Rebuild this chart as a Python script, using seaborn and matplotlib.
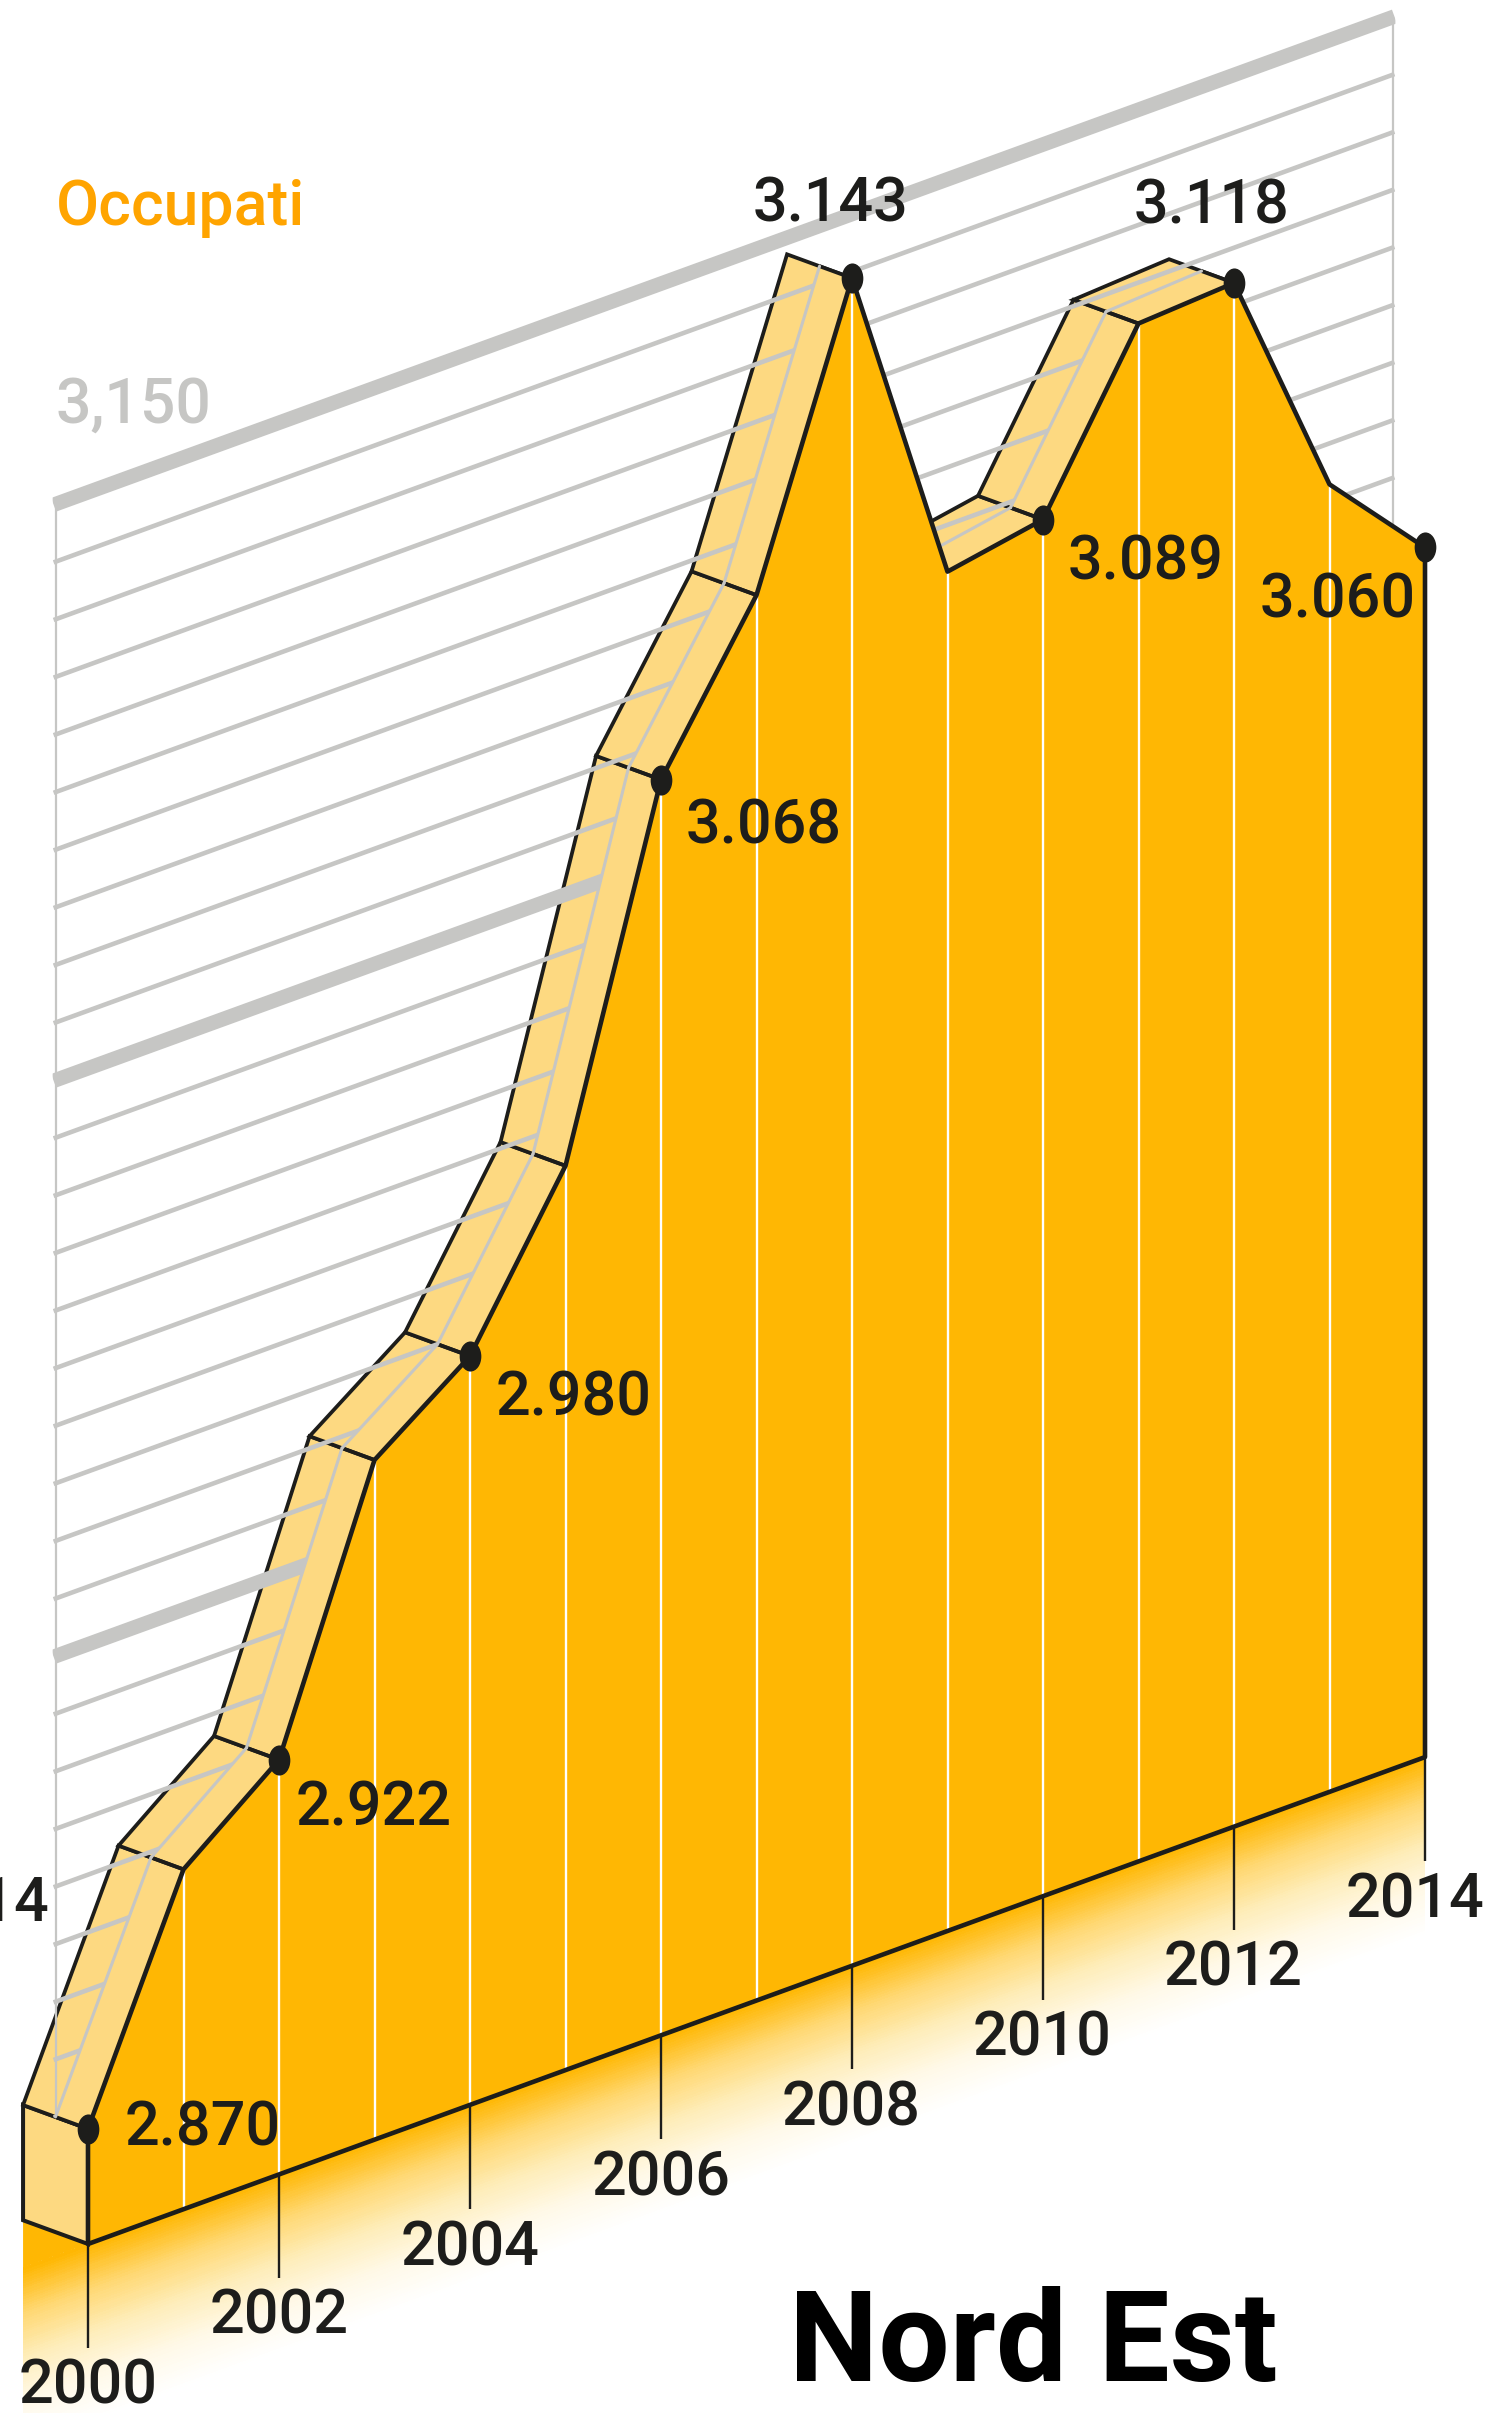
import matplotlib
matplotlib.use('Agg')
import matplotlib.pyplot as plt
from matplotlib.colors import LinearSegmentedColormap
from matplotlib.markers import MarkerStyle
from matplotlib.patches import Polygon
from matplotlib.path import Path
from matplotlib.transforms import Affine2D
import numpy as np
import seaborn as sns

years = [2000, 2001, 2002, 2003, 2004, 2005, 2006, 2007, 2008, 2009, 2010, 2011, 2012, 2013, 2014]
occupati = [2870, 2909, 2922, 2968, 2980, 3007, 3068, 3094, 3143, 3086, 3089, 3117, 3118, 3077, 3060]
label_years = [2000, 2002, 2004, 2006, 2008, 2010, 2012, 2014]
value_labels = ['2.870', '2.922', '2.980', '3.068', '3.143', '3.089', '3.118', '3.060']
grid_values = list(range(2860, 3160, 10))
thick_grid = [2950, 3050, 3150]
base_value = 2850

AMBER = '#FFB703'
LIGHT = '#FDD981'
BLACK = '#1D1D1B'
GREY = '#C6C6C4'
ORANGE = '#FFA400'

sns.set_theme(style='white')
plt.rcParams['font.family'] = ['Roboto', 'DejaVu Sans']

fig = plt.figure(figsize=(14.9, 24.13), dpi=100)
ax = fig.add_axes([0, 0, 1, 1])

# isometric look: one year goes right and up, one value unit goes straight up
px_year = 95.5
px_rise = 34.78
px_value = 5.76
skew = Affine2D.from_values(px_year, -px_rise, 0, -px_value,
                            88 - px_year * 2000,
                            2244 + px_rise * 2000 + px_value * base_value) + ax.transData

# the back of the ribbon is the same data moved along these
back_year = 0.68
back_value = 8.23

yr = np.array(years, dtype=float)
val = np.array(occupati, dtype=float)
mid_x = yr - back_year / 2
mid_y = val + back_value / 2
# ribbon pieces that go down face away and stay hidden
rising = [i for i in range(len(years) - 1) if val[i + 1] > val[i]]

# gradient on the floor under the chart
fade = LinearSegmentedColormap.from_list('fade', [AMBER, '#FFD873', '#FEEDBA', '#FFF9E8', '#FFFFFF'])
grad_x = np.array([2000 - back_year, 2014])
grad_y = np.linspace(base_value - 31, base_value, 70)
ax.pcolormesh(grad_x, grad_y, np.linspace(1, 0, 69).reshape(-1, 1), cmap=fade, transform=skew,
              zorder=1, linewidth=0, antialiased=False)
ax.add_patch(Polygon([[2000, base_value], [2000 - back_year, base_value + back_value],
                      [2000 - back_year, base_value]], closed=True, fc=AMBER, ec='none',
                     transform=skew, zorder=1))

# side of the block at 2000
ax.add_patch(Polygon([[2000, occupati[0]], [2000 - back_year, occupati[0] + back_value],
                      [2000 - back_year, base_value + back_value], [2000, base_value]],
                     closed=True, fc=LIGHT, ec=BLACK, lw=2.9, transform=skew, zorder=2))

# top ribbon, one piece per year
for i in rising:
    quad = [[yr[i], val[i]], [yr[i + 1], val[i + 1]],
            [yr[i + 1] - back_year, val[i + 1] + back_value],
            [yr[i] - back_year, val[i] + back_value]]
    ax.add_patch(Polygon(quad, closed=True, fc=LIGHT, ec=BLACK, lw=2.7, joinstyle='miter',
                         transform=skew, zorder=3))

# grey back wall stands in the middle of the ribbon
top = 3150 + back_value / 2 + 4
clip_pts = [[mid_x[0] - 0.03, mid_y[0]]] + list(zip(mid_x, mid_y)) + \
           [[mid_x[-1] + 0.03, mid_y[-1]], [mid_x[-1] + 0.03, top], [mid_x[0] - 0.03, top]]
clip = Polygon(clip_pts, closed=True, transform=skew, fc='none', ec='none')
ax.add_patch(clip)

for v in grid_values:
    lw = 10.5 if v in thick_grid else 3.3
    line, = ax.plot([mid_x[0] - 0.02, mid_x[-1] + 0.02],
                    [v + back_value / 2, v + back_value / 2],
                    color=GREY, lw=lw, solid_capstyle='butt', transform=skew, zorder=4)
    line.set_clip_path(clip)
for x in [mid_x[0], mid_x[-1]]:
    line, = ax.plot([x, x], [base_value, 3150 + back_value / 2], color=GREY, lw=1.6,
                    transform=skew, zorder=4)
    line.set_clip_path(clip)

# front half of the ribbon lies over the wall
for i in rising:
    half = [[yr[i], val[i]], [yr[i + 1], val[i + 1]], [mid_x[i + 1], mid_y[i + 1]], [mid_x[i], mid_y[i]]]
    ax.add_patch(Polygon(half, closed=True, fc=LIGHT, ec='none', transform=skew, zorder=4.2))
    for j in [i, i + 1]:
        ax.plot([yr[j], mid_x[j]], [val[j], mid_y[j]], color=BLACK, lw=2.7,
                solid_capstyle='butt', transform=skew, zorder=4.3)
    ax.plot([mid_x[i], mid_x[i + 1]], [mid_y[i], mid_y[i + 1]], color=GREY, lw=2.2,
            solid_capstyle='round', transform=skew, zorder=4.4)

# front face
ax.fill(np.r_[yr, yr[-1], yr[0]], np.r_[val, base_value, base_value], color=AMBER, lw=0,
        transform=skew, zorder=5)
ax.vlines(yr[1:-1], base_value, val[1:-1], color='white', lw=1.7, transform=skew, zorder=6)
ax.vlines(label_years, base_value - 18, base_value, color=BLACK, lw=1.7, transform=skew, zorder=6)

outline_x = list(years) + [years[-1], years[0], years[0]]
outline_y = list(occupati) + [base_value, base_value, occupati[0]]
sns.lineplot(x=outline_x, y=outline_y, sort=False, estimator=None, errorbar=None, color=BLACK,
             lw=3.3, transform=skew, zorder=7, ax=ax, legend=False)

# points on even years
oval = Path(Affine2D().scale(0.72, 1).transform(Path.unit_circle().vertices), Path.unit_circle().codes)
dot_y = [occupati[years.index(y)] for y in label_years]
sns.scatterplot(x=label_years, y=dot_y, marker=MarkerStyle(oval), s=470, color=BLACK, linewidth=0,
                transform=skew, zorder=8, ax=ax, legend=False)

ax.set_xlim(0, 1490)
ax.set_ylim(2413, 0)
ax.set_axis_off()

# labels
num_size = 44
value_pos = [(125, 2129), (296, 1808), (496, 1398), (686, 826), (753, 205), (1068, 563), (1134, 206), (1260, 601)]
for (lx, ly), txt in zip(value_pos, value_labels):
    ax.text(lx, ly, txt, fontsize=num_size, color=BLACK, ha='left', va='center', zorder=9,
            fontweight='medium')

year_pos = [(88, 2386), (279, 2317), (470, 2249), (661, 2179), (851, 2109), (1042, 2039), (1233, 1969), (1415, 1901)]
for (lx, ly), y in zip(year_pos, label_years):
    ax.text(lx, ly, str(y), fontsize=num_size, color=BLACK, ha='center', va='center', zorder=9,
            fontweight='medium')
# the neighbouring panel's last year, cut by the edge
ax.text(49, 1904, '2014', fontsize=num_size, color=BLACK, ha='right', va='center', zorder=9,
        fontweight='medium')

ax.text(56, 225, 'Occupati', fontsize=45, color=ORANGE, ha='left', va='baseline', fontweight='medium')
ax.text(56, 423, '3,150', fontsize=45, color=GREY, ha='left', va='baseline', fontweight='medium')
ax.text(789, 2381, 'Nord Est', fontsize=91, color='black', ha='left', va='baseline', fontweight='bold')

plt.savefig('out.png', dpi=100)
